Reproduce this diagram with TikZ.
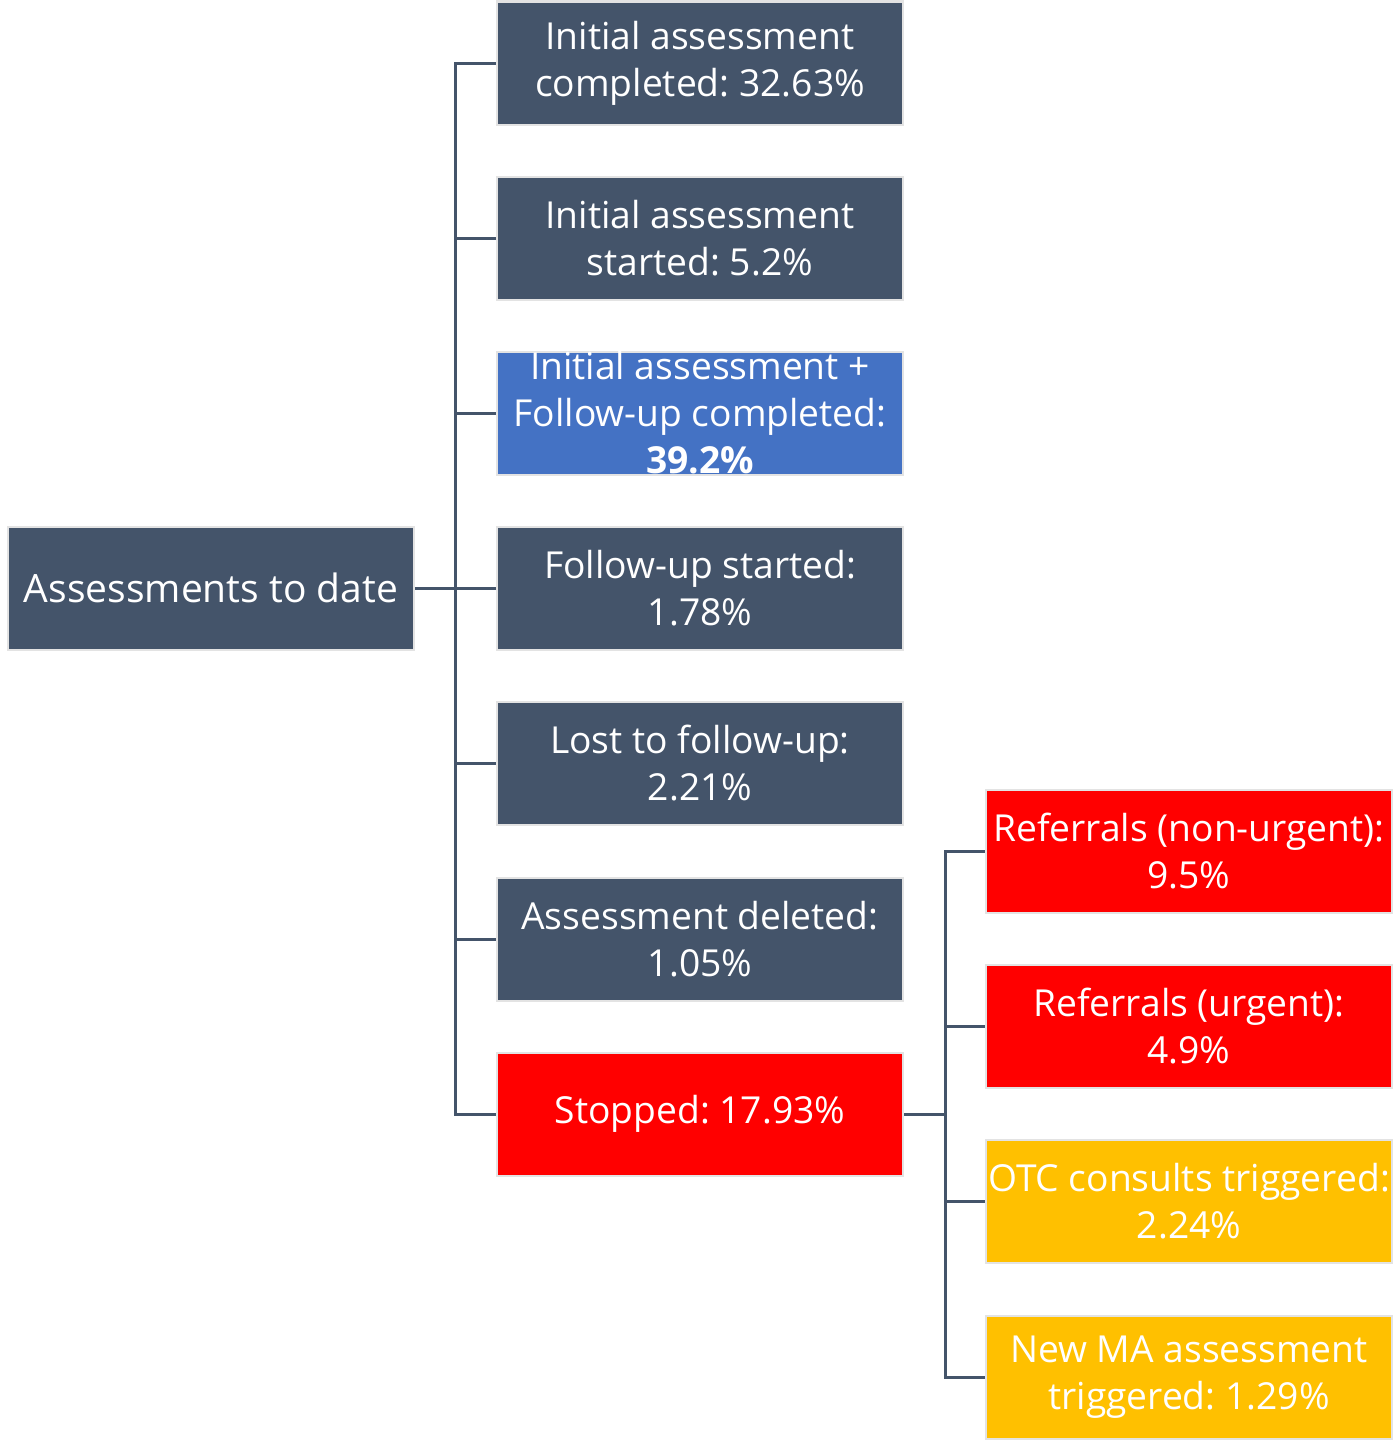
\documentclass[tikz,border=0pt]{standalone}
\usepackage{fontspec}
\setmainfont{Open Sans}
\frenchspacing
\definecolor{slate}{HTML}{44546A}
\definecolor{accent}{HTML}{4472C4}
\definecolor{alarm}{HTML}{FF0000}
\definecolor{amber}{HTML}{FFC000}
\tikzset{
  box/.style={draw=gray!22, line width=1pt, fill=slate, text=white, minimum width=203pt,
    minimum height=61.5pt, inner sep=0pt, align=center,
    font=\fontsize{18.6}{23.5}\selectfont},
  txt/.style={text=white, inner sep=0pt, align=center,
    font=\fontsize{18.6}{23.5}\selectfont},
  link/.style={draw=slate, line width=1.5pt}
}
\begin{document}
\begin{tikzpicture}[x=0.5pt,y=-0.5pt]
\useasboundingbox (0,0) rectangle (1393,1440);
\node[box, font=\fontsize{19.5}{23.5}\selectfont] (root) at (211,588) {Assessments to date};
\node[box] (c1) at (700,63) {Initial assessment\\completed: 32.63\%};
\node[box] (c2) at (700,238) {Initial assessment\\started: 5.2\%};
\node[box, fill=accent, label={[txt]center:Initial assessment +\\Follow-up completed:\\\textbf{39.2\%}}] (c3) at (700,413) {};
\node[box] (c4) at (700,588) {Follow-up started:\\1.78\%};
\node[box] (c5) at (700,763.5) {Lost to follow-up:\\2.21\%};
\node[box] (c6) at (700,939) {Assessment deleted:\\1.05\%};
\node[box, fill=alarm] (c7) at (700,1114) {Stopped: 17.93\%};
\node[box, fill=alarm] (s1) at (1189,851.5) {Referrals (non-urgent):\\9.5\%};
\node[box, fill=alarm] (s2) at (1189,1026.5) {Referrals (urgent):\\4.9\%};
\node[box, fill=amber] (s3) at (1189,1201.5) {OTC consults triggered:\\2.24\%};
\node[box, fill=amber] (s4) at (1189,1377) {New MA assessment\\triggered: 1.29\%};
\coordinate (trunk) at (455,0);
\coordinate (branch) at (945,0);
\foreach \i in {1,...,7}
\draw[link] (root.east) -- (root.east -| trunk) |- (c\i.west);
\foreach \i in {1,...,4}
\draw[link] (c7.east) -- (c7.east -| branch) |- (s\i.west);
\end{tikzpicture}
\end{document}
